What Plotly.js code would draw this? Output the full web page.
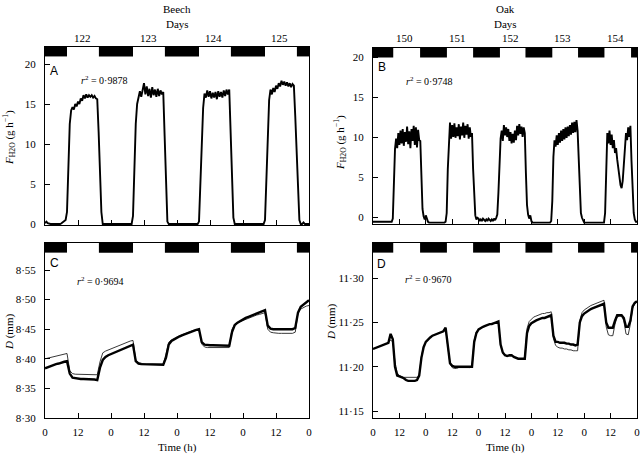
<!DOCTYPE html>
<html>
<head>
<meta charset="utf-8">
<script src="https://cdn.plot.ly/plotly-3.0.1.min.js"></script>
<style>html,body{margin:0;padding:0;background:#fff;}#chart{width:640px;height:454px;}</style>
</head>
<body>
<div id="chart"></div>
<script>
// ---------------- DATA ----------------
// Sampling step of the flux records (h)
const fluxStepH = 0.5;
// Sampling step of the diameter records (h)
const diamStepH = 1;

// Panel A – Beech sap flow F_H2O (g h-1), every 0.5 h from 0 to 96 h
const beechFlux = [
  0.1,0.3,0.1,0,0,0,0,0,0,0,0,0,0.1,0.2,0.3,0.5, 1.5,8,12.5,14.2,14.6,14.3,15.0,14.7,
  15.3,15.0,15.7,15.4,16.1,15.7,16.2,15.8,16.1,15.9,16.1,15.8,16.0,15.7,15.6,11.5,6.5,1.5,0,0,0,0,0,0,
  0,0,0,0,0,0,0,0,0,0,0,0,0,0,0,0, 1,7,12.5,15.0,15.8,16.6,15.9,17.0,
  17.6,16.2,17.2,16.0,16.9,15.8,17.1,16.1,16.8,15.9,16.9,16.0,16.7,16.2,16.5,11,4,0.3,0,0,0,0,0,0,
  0,0,0,0,0,0,0,0,0,0,0,0,0,0,0,0, 0.3,5.5,10.5,14.5,16.3,15.8,16.7,15.9,
  16.6,15.7,16.4,15.8,16.5,15.6,16.6,15.9,16.5,15.8,16.7,16.0,16.8,16.2,16.8,11,5,0.8,0,0,0,0,0,0,
  0,0,0,0,0,0,0,0,0,0,0,0,0,0,0,0, 0.5,6,11,15.5,16.8,16.2,17.0,16.5,
  17.3,16.9,17.6,17.2,17.9,17.4,17.8,17.3,17.7,17.2,17.6,17.1,17.5,17.3,13.5,8.5,3.5,0.5,0,0,0.2,0,0,0,
  0
];

// Panel B – Oak sap flow F_H2O (g h-1), every 0.5 h from 0 to 120 h
const oakFlux = [
  -0.6,-0.6,-0.6,-0.6,-0.6,-0.6,-0.6,-0.6,-0.6,-0.6,-0.6,-0.6,-0.6,-0.6,-0.6,-0.6,-0.6,-0.6, -0.2,4,8.5,9.8,8.6,10.5,
  9.0,10.8,9.2,11.0,8.9,10.6,9.4,11.3,9.1,10.7,8.6,11.0,9.5,11.4,9.0,11.2,8.7,10.9,9.6,9.5,5,1.0,0.1,-0.3,
  0.2,-0.4,-0.6, -0.7,-0.7,-0.7,-0.7,-0.7,-0.7,-0.7,-0.7,-0.7,-0.7,-0.7,-0.7,-0.7,-0.7,-0.7, -0.6,0.5,6,10.2,11.8,9.8,
  11.5,10.0,11.7,9.9,11.2,10.1,11.6,9.7,11.3,10.2,11.8,9.9,11.4,10.3,11.6,9.8,11.2,10.0,10.5,6,2,0.2,-0.3,-0.1,
  -0.2,-0.5,-0.3,-0.5,-0.2,-0.4,-0.5,-0.3,-0.5,-0.2,-0.4,-0.5,-0.3,-0.5,-0.2,-0.4,-0.1, 0.3,3,8,9.8,10.8,9.5,11.5,
  10.2,11.2,10.0,11.0,9.5,10.6,9.2,10.4,9.3,10.8,9.6,11.4,10.2,11.6,10.4,11.3,10.0,11.2,10.5,5.5,1.5,0.3,-0.2,0.2,
  -0.5, -0.7,-0.7,-0.7,-0.7,-0.7,-0.7,-0.7,-0.7,-0.7,-0.7,-0.7,-0.7,-0.7,-0.7,-0.7,-0.7,-0.7, -0.5,2,7.5,9.6,8.8,10.2,
  9.0,10.5,9.3,10.8,9.5,11.0,9.7,11.2,9.9,11.3,10.1,11.5,10.3,11.8,10.5,11.9,10.6,12.1,10.8,7,3,0.5,-0.1,-0.5,
  -0.7,-0.7,-0.7,-0.7,-0.7,-0.7,-0.7,-0.7,-0.7,-0.7,-0.7,-0.7,-0.7,-0.7,-0.7,-0.7,-0.7,-0.7,-0.7, 0.5,7,10.5,9.2,10.8,
  9.0,10.3,8.6,9.6,8.0,8.6,7.2,6.0,4.8,4.0,3.6,4.5,6.5,9.0,10.5,9.6,11.2,10.0,11.4,7,3,0.5,-0.3,-0.6,
  -0.6
];

// Panel C – Beech stem diameter D (mm), hourly 0–96 h
const beechDiamMeasured = [
  8.384,8.386,8.388,8.389,8.391,8.392,8.394,8.395,8.396,8.375,8.368,8.367,8.366,8.366,8.366,8.366,8.365,8.365,8.365,8.364,8.385,8.398,8.403,8.406,
  8.408,8.410,8.412,8.414,8.416,8.418,8.420,8.422,8.424,8.396,8.392,8.391,8.391,8.391,8.390,8.390,8.390,8.390,8.390,8.390,8.402,8.424,8.430,8.433,
  8.436,8.438,8.440,8.442,8.444,8.446,8.447,8.449,8.450,8.428,8.424,8.423,8.423,8.423,8.423,8.423,8.422,8.422,8.422,8.422,8.445,8.457,8.461,8.464,
  8.467,8.469,8.471,8.473,8.475,8.477,8.479,8.481,8.482,8.456,8.451,8.450,8.450,8.450,8.450,8.450,8.450,8.450,8.450,8.452,8.478,8.488,8.492,8.496,
  8.499
];
const beechDiamModel = [
  8.400,8.401,8.402,8.404,8.405,8.406,8.407,8.408,8.409,8.380,8.375,8.374,8.374,8.374,8.374,8.373,8.373,8.373,8.373,8.373,8.395,8.410,8.413,8.415,
  8.417,8.419,8.421,8.423,8.425,8.426,8.428,8.430,8.431,8.398,8.393,8.392,8.392,8.391,8.391,8.391,8.391,8.391,8.391,8.391,8.408,8.428,8.432,8.435,
  8.437,8.439,8.441,8.443,8.445,8.446,8.448,8.449,8.450,8.425,8.420,8.419,8.419,8.418,8.418,8.418,8.418,8.418,8.418,8.419,8.450,8.458,8.461,8.463,
  8.465,8.467,8.469,8.471,8.472,8.474,8.475,8.477,8.478,8.450,8.445,8.444,8.443,8.443,8.443,8.443,8.443,8.443,8.443,8.445,8.478,8.484,8.487,8.489,
  8.490
];

// Panel D – Oak stem diameter D (mm), hourly 0–120 h
const oakDiamMeasured = [
  11.220,11.221,11.222,11.223,11.224,11.225,11.226,11.227,11.237,11.231,11.200,11.190,11.189,11.188,11.187,11.185,11.184,11.184,11.184,11.184,11.185,11.190,11.210,11.222,
  11.228,11.231,11.233,11.235,11.236,11.237,11.238,11.239,11.240,11.244,11.225,11.204,11.201,11.200,11.200,11.200,11.200,11.200,11.200,11.200,11.200,11.200,11.228,11.238,
  11.242,11.244,11.245,11.246,11.247,11.248,11.248,11.249,11.250,11.251,11.225,11.216,11.213,11.212,11.213,11.213,11.211,11.210,11.209,11.209,11.209,11.209,11.238,11.246,
  11.249,11.251,11.252,11.253,11.254,11.255,11.255,11.256,11.257,11.258,11.235,11.228,11.228,11.227,11.227,11.227,11.226,11.226,11.225,11.225,11.224,11.225,11.250,11.257,
  11.260,11.262,11.264,11.265,11.266,11.267,11.268,11.269,11.270,11.271,11.250,11.244,11.244,11.244,11.252,11.258,11.258,11.258,11.255,11.245,11.245,11.252,11.268,11.272,
  11.274
];
const oakDiamModel = [
  11.220,11.221,11.222,11.223,11.224,11.225,11.226,11.227,11.230,11.228,11.205,11.193,11.190,11.189,11.188,11.188,11.188,11.188,11.188,11.188,11.188,11.190,11.212,11.223,
  11.228,11.231,11.233,11.235,11.236,11.237,11.238,11.239,11.240,11.242,11.222,11.203,11.199,11.198,11.198,11.199,11.199,11.199,11.199,11.199,11.199,11.201,11.230,11.239,
  11.242,11.244,11.245,11.246,11.247,11.248,11.249,11.249,11.250,11.250,11.224,11.215,11.213,11.212,11.212,11.212,11.211,11.210,11.209,11.209,11.209,11.210,11.243,11.251,
  11.254,11.256,11.257,11.258,11.259,11.260,11.260,11.261,11.261,11.262,11.232,11.224,11.222,11.221,11.221,11.220,11.220,11.219,11.219,11.218,11.218,11.218,11.252,11.261,
  11.264,11.266,11.268,11.269,11.270,11.271,11.272,11.273,11.274,11.275,11.245,11.236,11.235,11.235,11.248,11.256,11.257,11.257,11.252,11.237,11.236,11.248,11.266,11.271,
  11.273
];

// Night (dark) periods, hours
const beechNightStart = [0, 19.6, 43.6, 67.6, 91.6];
const beechNightEnd   = [8, 32, 56, 80, 96];
const oakNightStart   = [0, 21.4, 45.5, 69.3, 93.2, 117.3];
const oakNightEnd     = [9.2, 33.6, 57.7, 81.5, 105.2, 120];

// Day-of-year labels and their hour positions
const beechDays = ['122','123','124','125'];
const beechDayHour = [13.8, 37.6, 61.4, 85.2];
const oakDays = ['150','151','152','153','154'];
const oakDayHour = [14.5, 38.3, 62.4, 86.1, 110.2];

// Tick labels
const beechTimeTicks = [0,12,24,36,48,60,72,84,96];
const beechTimeText = ['0','12','0','12','0','12','0','12','0'];
const oakTimeTicks = [0,12,24,36,48,60,72,84,96,108,120];
const oakTimeText = ['0','12','0','12','0','12','0','12','0','12','0'];
const fluxTicks = [0,5,10,15,20];
const beechDTicks = [8.30,8.35,8.40,8.45,8.50,8.55];
const beechDText = ['8·30','8·35','8·40','8·45','8·50','8·55'];
const oakDTicks = [11.15,11.20,11.25,11.30];
const oakDText = ['11·15','11·20','11·25','11·30'];

const r2Text = ['0·9878','0·9748','0·9694','0·9670'];

// ---------------- BUILD ----------------
const times = (arr, step) => arr.map((_, i) => i * step);
const serif = '"Liberation Serif", "Times New Roman", Times, serif';
const sans = '"Liberation Sans", Arial, sans-serif';

const traces = [
  {x: times(beechFlux, fluxStepH), y: beechFlux, xaxis:'x', yaxis:'y', type:'scatter', mode:'lines', line:{color:'#000', width:1.9}},
  {x: times(oakFlux, fluxStepH), y: oakFlux, xaxis:'x2', yaxis:'y2', type:'scatter', mode:'lines', line:{color:'#000', width:1.9}},
  {x: times(beechDiamModel, diamStepH), y: beechDiamModel, xaxis:'x3', yaxis:'y3', type:'scatter', mode:'lines', line:{color:'#222', width:0.9}},
  {x: times(beechDiamMeasured, diamStepH), y: beechDiamMeasured, xaxis:'x3', yaxis:'y3', type:'scatter', mode:'lines', line:{color:'#000', width:2.4}},
  {x: times(oakDiamModel, diamStepH), y: oakDiamModel, xaxis:'x4', yaxis:'y4', type:'scatter', mode:'lines', line:{color:'#222', width:0.9}},
  {x: times(oakDiamMeasured, diamStepH), y: oakDiamMeasured, xaxis:'x4', yaxis:'y4', type:'scatter', mode:'lines', line:{color:'#000', width:2.4}}
];

function xa(domain, range, anchor, vals, text) {
  return {domain, range, anchor, showline:true, mirror:true, linecolor:'#000', linewidth:1,
    ticks:'inside', ticklen:5, tickcolor:'#000', tickwidth:1, tickvals:vals, ticktext:text || vals.map(String),
    showticklabels: !!text, showgrid:false, zeroline:false, fixedrange:true, ticklabelstandoff:4,
    ticklabeloverflow:'allow',
    tickfont:{family:serif, size:11, color:'#000'}};
}
function ya(domain, range, anchor, vals, text) {
  return {domain, range, anchor, showline:true, mirror:true, linecolor:'#000', linewidth:1,
    ticks:'inside', ticklen:5, tickcolor:'#000', tickwidth:1, tickvals:vals, ticktext:text || vals.map(String),
    showgrid:false, zeroline:false, fixedrange:true, ticklabelstandoff:6,
    tickfont:{family:serif, size:11, color:'#000'}};
}

const W = 640, H = 454;
const px = v => v / W, py = v => 1 - v / H;

const leftX = [px(45), px(309)];
const rightX = [px(373), px(637)];

const layout = {
  width: W, height: H,
  margin:{l:0, r:0, t:0, b:0},
  paper_bgcolor:'#fff', plot_bgcolor:'#fff',
  showlegend:false,
  font:{family:serif, size:11, color:'#000'},
  xaxis:  xa(leftX,  [0,96],  'y',  beechTimeTicks, null),
  xaxis2: xa(rightX, [0,120], 'y2', oakTimeTicks, null),
  xaxis3: xa(leftX,  [0,96],  'y3', beechTimeTicks, beechTimeText),
  xaxis4: xa(rightX, [0,120], 'y4', oakTimeTicks, oakTimeText),
  yaxis:  ya([py(225), py(47)], [-0.125, 22.125], 'x', fluxTicks, null),
  yaxis2: ya([py(224), py(48)], [-0.875, 21.125], 'x2', fluxTicks, null),
  yaxis3: ya([py(418), py(243)], [8.30, 8.5956], 'x3', beechDTicks, beechDText),
  yaxis4: ya([py(418), py(243)], [11.1421, 11.3396], 'x4', oakDTicks, oakDText),
  yaxis5: {overlaying:'y2', side:'right', anchor:'x2', range:[-0.125, 22.125], tickvals:fluxTicks,
    ticks:'inside', ticklen:5, tickcolor:'#000', showticklabels:false, showline:false, showgrid:false, zeroline:false, fixedrange:true},
  shapes: [],
  annotations: []
};

function nightBars(starts, ends, xref, yref, y0) {
  starts.forEach((s, i) => {
    layout.shapes.push({type:'rect', xref, yref, x0:s, x1:ends[i], y0, y1:1, fillcolor:'#000', line:{width:0}, layer:'above'});
  });
}
nightBars(beechNightStart, beechNightEnd, 'x', 'y domain', 0.947);
nightBars(oakNightStart, oakNightEnd, 'x2', 'y2 domain', 0.946);
nightBars(beechNightStart, beechNightEnd, 'x3', 'y3 domain', 0.945);
nightBars(oakNightStart, oakNightEnd, 'x4', 'y4 domain', 0.945);

function ann(text, x, y, extra) {
  layout.annotations.push(Object.assign({text, x, y, xref:'paper', yref:'paper', showarrow:false,
    xanchor:'center', yanchor:'middle', font:{family:serif, size:11, color:'#000'}}, extra || {}));
}
// headers
ann('Beech', px(177), py(9));
ann('Days', px(177), py(24));
ann('Oak', px(505), py(9));
ann('Days', px(505), py(24));
beechDays.forEach((d, i) => ann(d, beechDayHour[i], py(38), {xref:'x'}));
oakDays.forEach((d, i) => ann(d, oakDayHour[i], py(38), {xref:'x2'}));
// y titles
const fTitle = '<i>F</i><sub>H2O</sub> (g h<sup>−1</sup>)';
const dTitle = '<i>D</i> (mm)';
ann(fTitle, px(9), py(138), {textangle:-90});
ann(fTitle, px(340), py(143), {textangle:-90});
ann(dTitle, px(9), py(332), {textangle:-90});
ann(dTitle, px(331), py(322), {textangle:-90});
// x titles
ann('Time (h)', px(177), py(447));
ann('Time (h)', px(505), py(447));
// r^2
ann('<i>r</i><sup>2</sup> = ' + r2Text[0], px(104), py(80), {font:{family:serif, size:10, color:'#000'}});
ann('<i>r</i><sup>2</sup> = ' + r2Text[1], px(429), py(81), {font:{family:serif, size:10, color:'#000'}});
ann('<i>r</i><sup>2</sup> = ' + r2Text[2], px(100), py(281), {font:{family:serif, size:10, color:'#000'}});
ann('<i>r</i><sup>2</sup> = ' + r2Text[3], px(428), py(279), {font:{family:serif, size:10, color:'#000'}});
// panel letters
const letterFont = {family:sans, size:12, color:'#000'};
ann('A', px(54), py(71), {font:letterFont});
ann('B', px(382), py(67), {font:letterFont});
ann('C', px(54), py(263), {font:letterFont});
ann('D', px(381), py(264), {font:letterFont});

Plotly.newPlot('chart', traces, layout, {staticPlot:true, displayModeBar:false});
</script>
</body>
</html>
